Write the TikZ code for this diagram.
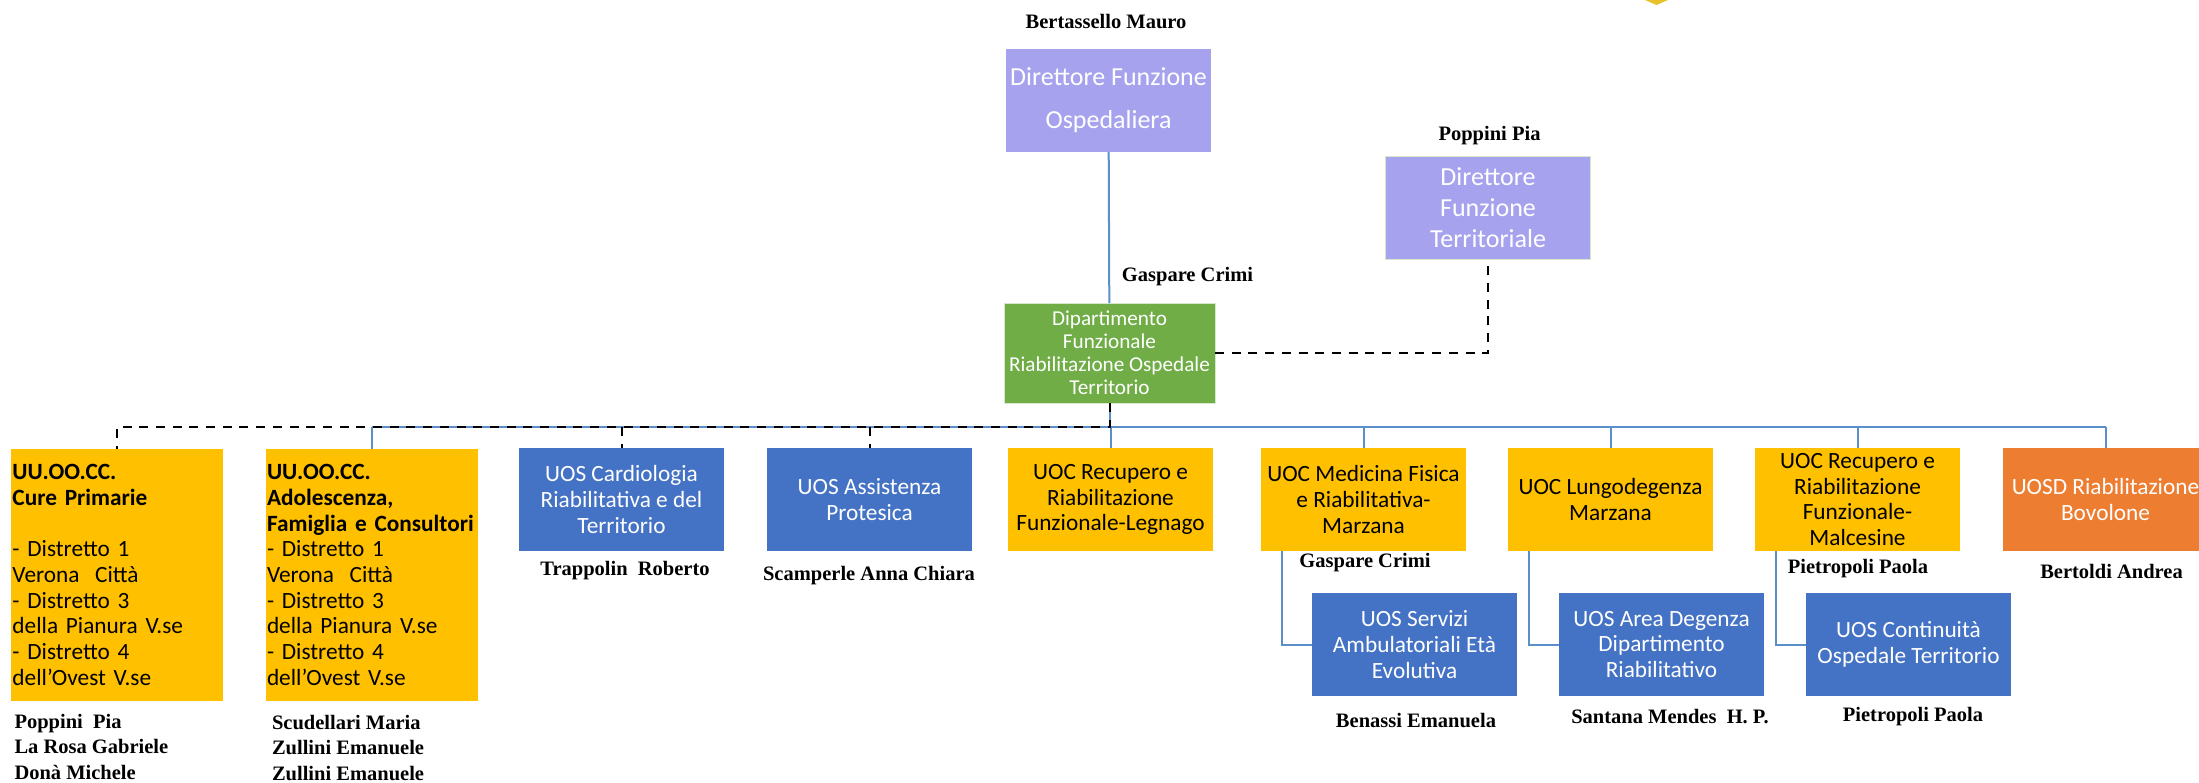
\documentclass[tikz,border=0pt]{standalone}
\usepackage{fontspec}
\setmainfont{Carlito}
\newfontfamily\namefont{Liberation Serif}
\definecolor{lilac}{HTML}{A6A2EE}
\definecolor{uosblue}{HTML}{4472C4}
\definecolor{uocyellow}{HTML}{FFC000}
\definecolor{dipgreen}{HTML}{70AD47}
\definecolor{uosdorange}{HTML}{ED7D31}
\definecolor{linkblue}{HTML}{5B8FC9}
\definecolor{paleedge}{HTML}{D5E8CB}
\definecolor{logogold}{HTML}{E8C22A}
\begin{document}
\begin{tikzpicture}[x=1pt,y=-1pt,
    every node/.style={inner sep=0pt,outer sep=0pt,align=center},
    boxnode/.style={minimum width=205pt,minimum height=103pt,font=\fontsize{23.3}{25.7}\selectfont},
    uoc/.style={boxnode,fill=uocyellow,text=black},
    uos/.style={boxnode,fill=uosblue,text=white},
    district/.style={uoc,minimum width=212pt,minimum height=252pt,text width=209pt,align=left},
    who/.style={font=\namefont\bfseries\fontsize{20.5}{25.7}\selectfont,text=black},
    link/.style={draw=linkblue,line width=2pt},
    dashlink/.style={draw=black,line width=2pt,dash pattern=on 9pt off 7.7pt}]

\useasboundingbox (0,0) rectangle (2199,782);
\clip (0,0) rectangle (2199,782);

        % logo tip at the top edge
        \fill[logogold] (1645,0) -- (1668,0) -- (1656.5,5) -- cycle;

        % directors
        \node[boxnode,fill=lilac,text=white,font=\fontsize{26}{43}\selectfont] (dirosp) at (1108.5,100.5) {Direttore Funzione\\Ospedaliera};
        \node[boxnode,fill=lilac,text=white,draw=paleedge,line width=1pt,font=\fontsize{26}{31}\selectfont] (dirter) at (1488,208) {Direttore\\Funzione\\Territoriale};
        \node[boxnode,fill=dipgreen,text=white,draw=paleedge,line width=1pt,minimum width=211pt,minimum height=100pt,font=\fontsize{21.2}{23}\selectfont] (dipfun) at (1109.5,353) {Dipartimento\\Funzionale\\Riabilitazione Ospedale\\Territorio};

        % first row
        \node[district] (cureprim) at (117,575) {\textbf{UU.OO.CC.}\\\textbf{Cure Primarie}\\[25.7pt]- Distretto 1\\Verona~ Città\\- Distretto 3\\della Pianura V.se\\- Distretto 4\\dell’Ovest V.se};
        \node[district] (adolesc) at (371.5,575) {\textbf{UU.OO.CC.}\\\textbf{Adolescenza,}\\\textbf{Famiglia e Consultori}\\- Distretto 1\\Verona~ Città\\- Distretto 3\\della Pianura V.se\\- Distretto 4\\dell’Ovest V.se};
        \node[uos] (cardio) at (621.5,499.5) {UOS Cardiologia\\Riabilitativa e del\\Territorio};
        \node[uos] (protesi) at (869.5,499.5) {UOS Assistenza\\Protesica};
        \node[uoc] (legnago) at (1110.5,499.5) {UOC Recupero e\\Riabilitazione\\Funzionale-Legnago};
        \node[uoc] (medfis) at (1363.5,499.5) {UOC Medicina Fisica\\e Riabilitativa-\\Marzana};
        \node[uoc] (lungo) at (1610.5,499.5) {UOC Lungodegenza\\Marzana};
        \node[uoc] (malces) at (1857.5,499.5) {UOC Recupero e\\Riabilitazione\\Funzionale-\\Malcesine};
        \node[boxnode,fill=uosdorange,text=white] (bovol) at (2105.5,499.5) {UOSD Riabilitazione\\Bovolone};

        % second row
        \node[uos] (servamb) at (1414.5,644.5) {UOS Servizi\\Ambulatoriali Età\\Evolutiva};
        \node[uos] (areadeg) at (1661.5,644.5) {UOS Area Degenza\\Dipartimento\\Riabilitativo};
        \node[uos] (contin) at (1908.5,644.5) {UOS Continuità\\Ospedale Territorio};

        % names
        \node[who] (nbert) at (1106,22) {Bertassello Mauro};
        \node[who] (npopp) at (1489.5,136) {Poppini Pia};
        \node[who] (ngasp) at (1187.5,277) {Gaspare Crimi};
        \node[who,align=left,anchor=north west] (ncure) at (14.5,714) {Poppini~ Pia\\La Rosa Gabriele\\Donà Michele};
        \node[who,align=left,anchor=north west] (nadol) at (272,715) {Scudellari Maria\\Zullini Emanuele\\Zullini Emanuele};
        \node[who] (ncard) at (625,571) {Trappolin~ Roberto};
        \node[who] (nprot) at (869,576) {Scamperle Anna Chiara};
        \node[who] (ngasb) at (1365,563) {Gaspare Crimi};
        \node[who] (npiet) at (1858,569) {Pietropoli Paola};
        \node[who] (nbold) at (2111.5,571) {Bertoldi Andrea};
        \node[who] (nbena) at (1416,721) {Benassi Emanuela};
        \node[who] (nsant) at (1670,717) {Santana Mendes~ H. P.};
        \node[who] (npieb) at (1913,717) {Pietropoli Paola};

        % connectors
        \coordinate (busleft) at (adolesc.north |- 0,427);
        \coordinate (busright) at (bovol.north |- 0,427);
        \coordinate (busmid) at (dipfun.south |- 0,427);
        \draw[link] (dirosp) -- (dipfun);
        \draw[link] (dipfun.south) -- (busmid);
        \draw[link] (busleft) -- (busright);
        \foreach \n in {adolesc,legnago,medfis,lungo,malces,bovol}
            \draw[link] (\n.north) -- (\n.north |- busleft);
        \draw[link] ([xshift=-81.5pt]medfis.south) |- (servamb.west);
        \draw[link] ([xshift=-81.5pt]lungo.south) |- (areadeg.west);
        \draw[link] ([xshift=-81.5pt]malces.south) |- (contin.west);
        \draw[dashlink] (dipfun.east) -| (dirter.south);
        \draw[dashlink] (dipfun.south) -- (busmid) -| (cureprim.north);
        \foreach \n in {cardio,protesi}
            \draw[dashlink] (\n.north |- busmid) -- (\n.north);
\end{tikzpicture}
\end{document}
